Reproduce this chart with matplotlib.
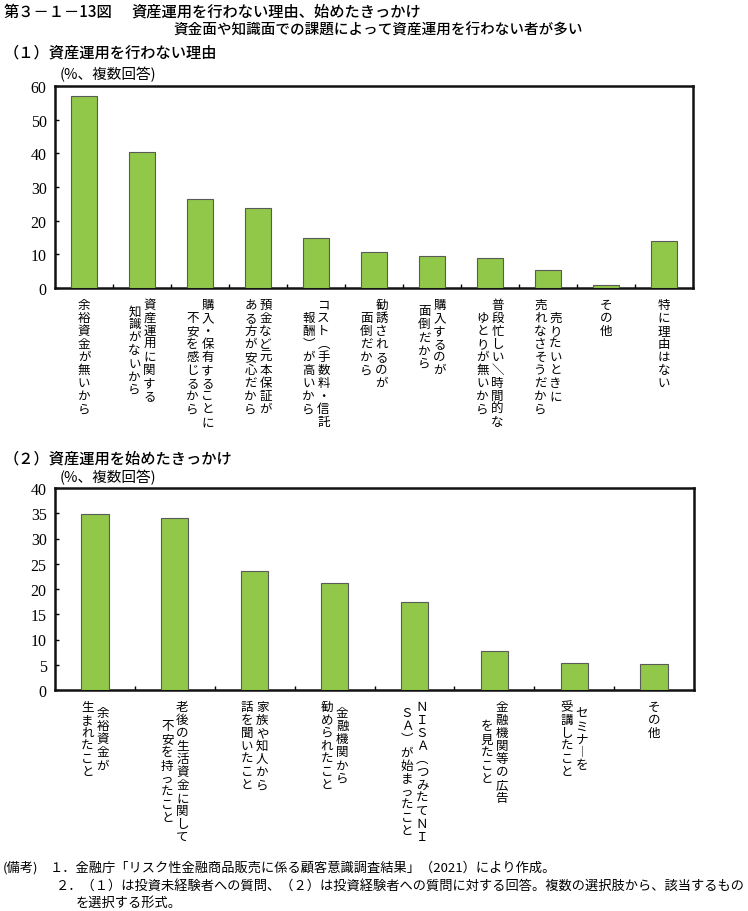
import matplotlib
matplotlib.use('Agg')
import matplotlib.pyplot as plt
import numpy as np

plt.rcParams['font.family'] = ['Noto Sans CJK JP', 'DejaVu Sans']

# ---------------- data ----------------
labels1 = [
    ["余裕資金が無いから"],
    ["資産運用に関する", "知識がないから"],
    ["購入・保有することに", "不安を感じるから"],
    ["預金など元本保証が", "ある方が安心だから"],
    ["コスト︵手数料・信託", "報酬︶が高いから"],
    ["勧誘されるのが", "面倒だから"],
    ["購入するのが", "面倒だから"],
    ["普段忙しい＼時間的な", "ゆとりが無いから"],
    ["売りたいときに", "売れなさそうだから"],
    ["その他"],
    ["特に理由はない"],
]
values1 = [56.9, 40.4, 26.3, 23.7, 14.8, 10.6, 9.5, 9.0, 5.3, 0.9, 13.9]
yticks1 = [0, 10, 20, 30, 40, 50, 60]

labels2 = [
    ["余裕資金が", "生まれたこと"],
    ["老後の生活資金に関して", "不安を持ったこと"],
    ["家族や知人から", "話を聞いたこと"],
    ["金融機関から", "勧められたこと"],
    ["ＮＩＳＡ︵つみたてＮＩ", "ＳＡ︶が始まったこと"],
    ["金融機関等の広告", "を見たこと"],
    ["セミナ︱を", "受講したこと"],
    ["その他"],
]
values2 = [34.9, 34.0, 23.5, 21.1, 17.4, 7.7, 5.3, 5.1]
yticks2 = [0, 5, 10, 15, 20, 25, 30, 35, 40]

title = "第３－１－13図"
title2 = "資産運用を行わない理由、始めたきっかけ"
subtitle = "資金面や知識面での課題によって資産運用を行わない者が多い"
panel1 = "（１）資産運用を行わない理由"
panel2 = "（２）資産運用を始めたきっかけ"
unit = "(%、複数回答)"
notes = [
    "１．金融庁「リスク性金融商品販売に係る顧客意識調査結果」（2021）により作成。",
    "２．（１）は投資未経験者への質問、（２）は投資経験者への質問に対する回答。複数の選択肢から、該当するもの",
    "を選択する形式。",
]

# ---------------- figure ----------------
W, H = 748, 912
fig = plt.figure(figsize=(W / 100, H / 100), dpi=100)

def px(x, y):
    return x / W, 1 - y / H

BAR = '#92c84a'
EDGE = '#5a5a5a'
SERIF = ['Liberation Serif', 'DejaVu Serif']

FS_LAB = 9.0
PITCH = 9.4          # points between stacked characters
COLSEP = 10.8        # points between columns
ASC = 0.86 * FS_LAB  # baseline offset below top


def draw_panel(rect, values, labels, yticks, width):
    ax = fig.add_axes(rect)
    n = len(values)
    x = np.arange(n)
    ax.bar(x, values, width=width, color=BAR, edgecolor=EDGE, linewidth=0.8, zorder=3)
    ax.set_xlim(-0.5, n - 0.5)
    ax.set_ylim(yticks[0], yticks[-1])
    ax.set_yticks(yticks)
    ax.set_yticklabels([str(t) for t in yticks], fontfamily=SERIF, fontsize=11.5)
    ax.set_xticks(np.arange(0.5, n - 1, 1.0))
    ax.set_xticklabels([])
    ax.tick_params(axis='y', direction='in', length=3, width=1, pad=6, left=True, right=False)
    ax.tick_params(axis='x', direction='in', length=3, width=1, bottom=True, top=False)
    for s in ax.spines.values():
        s.set_linewidth(1.8)
        s.set_color('#111111')
    # vertical (tategaki) category labels
    for i, cols in enumerate(labels):
        ncol = len(cols)
        L = max(len(c) for c in cols)
        for j, col in enumerate(cols):
            dx = ((ncol - 1) / 2 - j) * COLSEP
            top = 6.5 + (L - len(col)) / 2 * PITCH
            for k, ch in enumerate(col):
                ax.annotate(ch, xy=(x[i], 0), xycoords=('data', 'axes fraction'),
                            xytext=(dx, -(top + k * PITCH + ASC)),
                            textcoords='offset points', ha='center', va='baseline',
                            fontsize=FS_LAB, annotation_clip=False)
    return ax

ax1 = draw_panel([55 / W, 1 - 289 / H, (693 - 55) / W, (289 - 87) / H],
                 values1, labels1, yticks1, 0.44)
ax2 = draw_panel([55 / W, 1 - 691 / H, (694 - 55) / W, (691 - 489) / H],
                 values2, labels2, yticks2, 0.34)

# ---------------- texts ----------------
fig.text(*px(4, 12), title, fontsize=11, va='center', ha='left', fontweight='medium')
fig.text(*px(131, 12), title2, fontsize=11, va='center', ha='left', fontweight='medium')
fig.text(*px(378, 30), subtitle, fontsize=10.5, va='center', ha='center', fontweight='medium')
fig.text(*px(4, 53), panel1, fontsize=11, va='center', ha='left', fontweight='medium')
fig.text(*px(4, 459), panel2, fontsize=11, va='center', ha='left', fontweight='medium')
fig.text(*px(60, 75), unit, fontsize=10.5, va='center', ha='left')
fig.text(*px(60, 478), unit, fontsize=10.5, va='center', ha='left')

fig.text(*px(3, 868), "(備考)", fontsize=9.5, va='center', ha='left')
fig.text(*px(50, 868), notes[0], fontsize=9.5, va='center', ha='left')
fig.text(*px(56, 886), notes[1], fontsize=9.5, va='center', ha='left')
fig.text(*px(76, 903), notes[2], fontsize=9.5, va='center', ha='left')

fig.savefig('out.png', dpi=100)
